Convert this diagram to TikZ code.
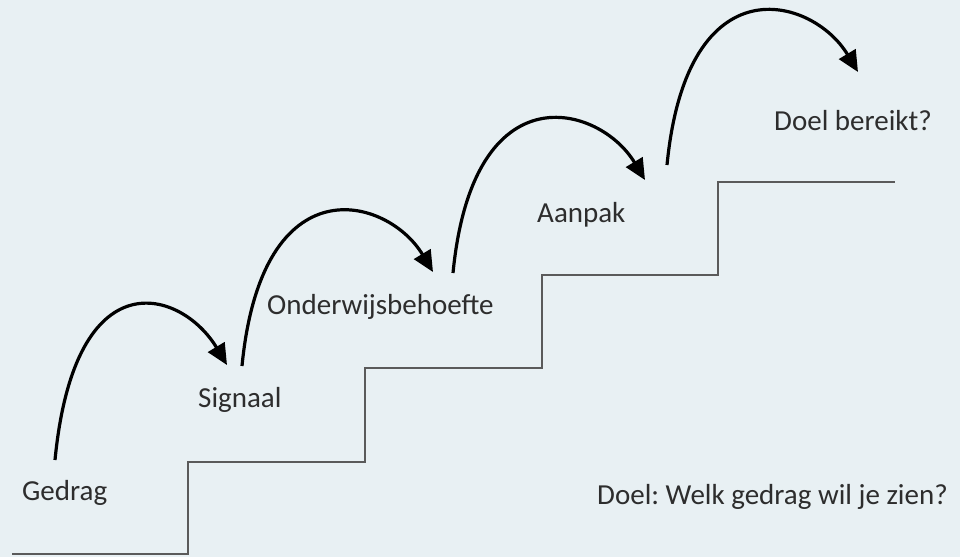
\documentclass[tikz,border=0pt]{standalone}
\usepackage{fontspec}
\setmainfont{Carlito}
\usetikzlibrary{arrows.meta,
                positioning}
\definecolor{bgblue}{RGB}{232,240,243}
\definecolor{stairgray}{RGB}{90,90,90}
\definecolor{textgray}{RGB}{45,45,45}
\tikzset{label/.style =
   {anchor=west,
    inner sep=0pt,
    text=textgray,
    font=\fontsize{29}{34}\selectfont\frenchspacing}}
\tikzset{stairs/.style =
   {draw=stairgray,
    line width=2.5pt}}
\tikzset{jump/.style =
   {draw,
    line width=3.2pt,
    -{Triangle[length=21pt,width=19pt]}}}

\begin{document}
\begin{tikzpicture}[x=1pt,y=-1pt]

    % background and margins
    \fill [bgblue] (0,0) rectangle (960,557);
    \useasboundingbox (0,0) rectangle (960,557);

    % staircase
    \draw [stairs] (12,554) -- (188,554) -- (188,462) -- (365,462)
                   -- (365,368) -- (542,368) -- (542,275) -- (718,275)
                   -- (718,182) -- (895,182);

    % steps
    \node [label] (gedrag)  at (22,493)  {Gedrag};
    \node [label] (signaal) at (198,400) {Signaal};
    \node [label] (behoefte) at (267,307) {Onderwijsbehoefte};
    \node [label] (aanpak)  at (537,215) {Aanpak};
    \node [label] (bereikt) at (774,121) {Doel bereikt?};
    \node [label] (doel)    at (597,497) {Doel: Welk gedrag wil je zien?};

    % arrow ends
    \coordinate (gedrag-out)   at (55,460);
    \coordinate (signaal-in)   at (227,365);
    \coordinate (signaal-out)  at (242,366);
    \coordinate (behoefte-in)  at (433,272);
    \coordinate (behoefte-out) at (453,273);
    \coordinate (aanpak-in)    at (645,180);
    \coordinate (aanpak-out)   at (667,165);
    \coordinate (bereikt-in)   at (858,72);

    % jumps
    \draw [jump] (gedrag-out)   .. controls +(20,-205) and +(-45,-75) .. (signaal-in);
    \draw [jump] (signaal-out)  .. controls +(20,-205) and +(-45,-75) .. (behoefte-in);
    \draw [jump] (behoefte-out) .. controls +(20,-205) and +(-45,-75) .. (aanpak-in);
    \draw [jump] (aanpak-out)   .. controls +(20,-205) and +(-45,-75) .. (bereikt-in);

\end{tikzpicture}
\end{document}
